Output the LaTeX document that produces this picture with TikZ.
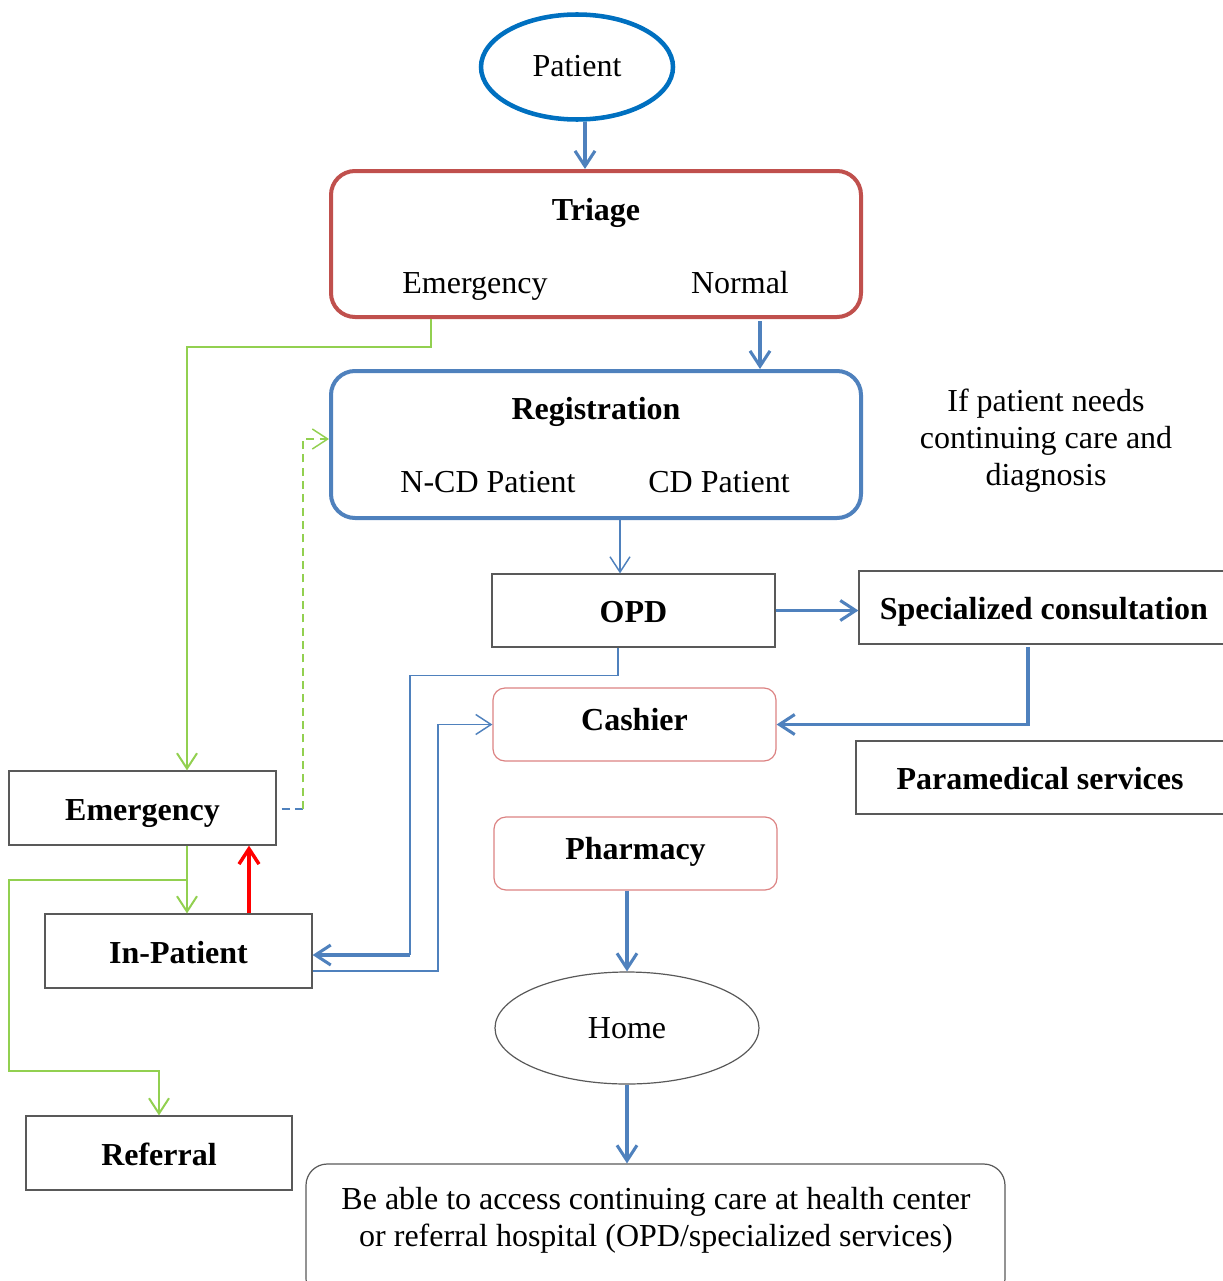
\documentclass[tikz,border=0pt]{standalone}
\usepackage{fontspec}
\setmainfont{Liberation Serif}
\usetikzlibrary{arrows.meta,shapes.geometric,calc}

\definecolor{pblue}{HTML}{0070C0}
\definecolor{lblue}{HTML}{4F81BD}
\definecolor{tred}{HTML}{C0504D}
\definecolor{lgreen}{HTML}{92D050}
\definecolor{pink}{HTML}{DC8282}
\definecolor{boxgray}{HTML}{595959}

\tikzset{
  every node/.style={font=\fontsize{24}{27.75}\selectfont, inner sep=0pt},
  tip/.style={-{Straight Barb[length=11.5pt,width=15pt]}},
  bthick/.style={draw=lblue, line width=2.3pt, tip},
  bthin/.style={draw=lblue, line width=1.1pt},
  gline/.style={draw=lgreen, line width=1.5pt},
  plainbox/.style={draw=boxgray, line width=0.9pt, rectangle, font=\fontsize{24}{27.75}\selectfont\bfseries,
    text height=22pt, text depth=4pt},
  softbox/.style={draw=pink, line width=0.9pt, rectangle, rounded corners=9pt, font=\fontsize{24}{27.75}\selectfont\bfseries,
    text height=13pt, text depth=4.75pt},
  bigbox/.style={rectangle, rounded corners=18pt, line width=3pt},
  label/.style={anchor=base}
}

\begin{document}
\begin{tikzpicture}[x=0.75pt,y=-0.75pt]
\useasboundingbox (0,0) rectangle (1222,1281);

% entry and triage
\node[ellipse, draw=pblue, line width=3.4pt, minimum width=144pt, minimum height=78.75pt] (patient) at (577,67) {};
\node[label] (patienttxt) at (577,77) {Patient};

\node[bigbox, draw=tred, minimum width=397.5pt, minimum height=109.5pt] (triage) at (596,244) {};
\node[label] (triagetxt) at (596,220) {\bfseries Triage};
\node[label] (triageem) at (475,293) {Emergency};
\node[label] (triagenorm) at (740,293) {Normal};

% registration
\node[bigbox, draw=lblue, minimum width=397.5pt, minimum height=110.25pt] (reg) at (596,444.5) {};
\node[label] (regtxt) at (596,419) {\bfseries Registration};
\node[label] (regncd) at (488,492) {N-CD Patient};
\node[label] (regcd) at (719,492) {CD Patient};

\node[align=center] (note) at (1046,441) {If patient needs\\continuing care and\\diagnosis};

% outpatient path
\node[plainbox, minimum width=212.25pt, minimum height=54.75pt] (opd) at (633.5,610.5) {OPD};
\node[plainbox, minimum width=278.25pt, minimum height=54.75pt] (spec) at (1044.5,607.5) {\hspace*{-1pt}Specialized consultation};
\node[plainbox, minimum width=280.5pt, minimum height=54.75pt] (para) at (1043,777.5) {\hspace*{-4.5pt}Paramedical services};
\node[softbox, minimum width=212.25pt, minimum height=54.75pt] (cashier) at (634.5,724.5) {Cashier};
\node[softbox, minimum width=212.25pt, minimum height=54.75pt] (pharm) at (635.5,853.5) {Pharmacy};
\node[ellipse, draw=boxgray, line width=0.9pt, minimum width=198pt, minimum height=84pt] (home) at (627,1028) {Home};
\node[rectangle, rounded corners=16pt, draw=boxgray, line width=0.9pt, minimum width=524.25pt, minimum height=102pt] (final) at (655.5,1232) {};
\node[align=center] (finaltxt) at (656,1220) {Be able to access continuing care at health center\\or referral hospital (OPD/specialized services)};

% emergency side
\node[plainbox, minimum width=200.25pt, minimum height=55.5pt] (emerg) at (142.5,808) {Emergency};
\node[plainbox, minimum width=200.25pt, minimum height=55.5pt] (inp) at (178.5,951) {In-Patient};
\node[plainbox, minimum width=199.5pt, minimum height=55.5pt] (ref) at (159,1153) {Referral};

% connector anchor points
\coordinate (p1) at ($(patient.south)+(8,0)$);
\coordinate (t1) at ($(triage.south)+(164,2)$);
\coordinate (t2) at ($(triage.south)+(-165,0)$);
\coordinate (r1) at ($(reg.south)+(24,0)$);
\coordinate (o1) at ($(opd.south)+(-15.5,0)$);
\coordinate (s1) at ($(spec.south)+(-16.5,2)$);
\coordinate (e0) at ($(emerg.north)+(44.5,0)$);
\coordinate (e1) at ($(emerg.south)+(44.5,0)$);
\coordinate (e2) at ($(emerg.east)+(5,1)$);
\coordinate (k1) at (410,955);
\coordinate (k2) at (438,971);
\coordinate (k3) at (303,809);
\coordinate (k4) at (303,439);
\coordinate (k5) at (187,880);
\coordinate (i1) at ($(inp.north)+(70.5,0)$);

% main flow
\draw[bthick] (p1) -- (p1 |- triage.north);
\draw[bthick] (t1) -- (t1 |- reg.north);
\draw[bthin, tip] (r1) -- (r1 |- opd.north);
\draw[bthick] (opd.east) -- (opd.east -| spec.west);
\draw[bthick] (s1) |- (cashier.east);
\draw[bthick] (home.north |- pharm.south) -- (home.north);
\draw[bthick] (home.south) -- (home.south |- final.north);

% OPD to in-patient and in-patient to cashier
\draw[bthin] (o1) -- ++(0,28) -| (k1);
\draw[bthick] (k1) -- (k1 -| inp.east);
\draw[bthin, tip] (k2 -| inp.east) -- (k2) |- (cashier.west);

% emergency routes
\draw[gline, tip] (t2) -- ++(0,28) -| (e0);
\draw[draw=lblue, line width=1.1pt, dash pattern=on 6pt off 4pt] (e2) -- (k3);
\draw[draw=lgreen, line width=1.1pt, dash pattern=on 6pt off 4pt, tip] (k3) -- (k4) -- (k4 -| reg.west);
\draw[gline, tip] (e1) -- (e1 |- inp.north);
\draw[gline, tip] (k5) -- ++(-178,0) -- ++(0,191) -| (ref.north);
\draw[draw=red, line width=2.6pt, tip] (i1) -- (i1 |- emerg.south);

\end{tikzpicture}
\end{document}
